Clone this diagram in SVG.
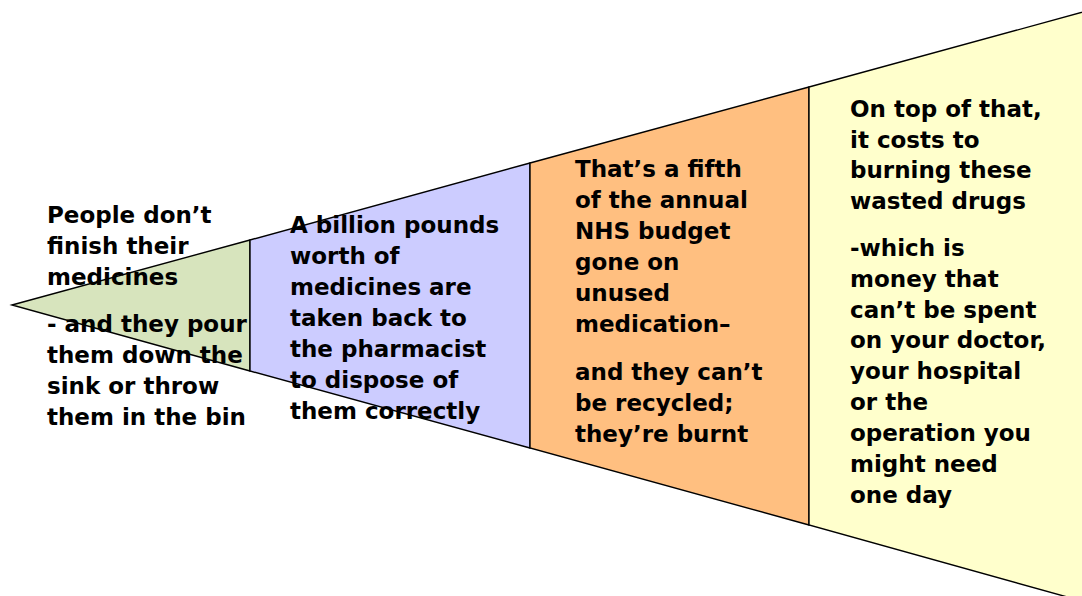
<svg xmlns="http://www.w3.org/2000/svg" width="1082" height="596" viewBox="0 0 1082 596">
<style>
.seg{stroke:#000;stroke-width:1.4;stroke-linejoin:miter}
.t{font-family:"DejaVu Sans","Verdana",sans-serif;font-weight:bold;font-size:23px;fill:#000}
</style>
<rect width="1082" height="596" fill="#fff"/>
<g id="stage1">
<polygon class="seg" fill="#D7E4BD" points="12,305 250,240 250,371"/>
</g>
<g id="stage2">
<polygon class="seg" fill="#CCCCFF" points="250,240 530,163 530,448 250,371"/>
</g>
<g id="stage3">
<polygon class="seg" fill="#FFBF80" points="530,163 809,87 809,525 530,448"/>
</g>
<g id="stage4">
<polygon class="seg" fill="#FFFFCC" points="809,87 1096,8.5 1096,605 809,525"/>
</g>
<g id="text1" class="t">
<text x="47" y="223">People don’t</text>
<text x="47" y="254">finish their</text>
<text x="47" y="285">medicines</text>
<text x="47" y="332">- and they pour</text>
<text x="47" y="363">them down the</text>
<text x="47" y="394">sink or throw</text>
<text x="47" y="425">them in the bin</text>
</g>
<g id="text2" class="t">
<text x="290" y="233">A billion pounds</text>
<text x="290" y="264">worth of</text>
<text x="290" y="295">medicines are</text>
<text x="290" y="326">taken back to</text>
<text x="290" y="357">the pharmacist</text>
<text x="290" y="388">to dispose of</text>
<text x="290" y="419">them correctly</text>
</g>
<g id="text3" class="t">
<text x="575" y="177">That’s a fifth</text>
<text x="575" y="208">of the annual</text>
<text x="575" y="239">NHS budget</text>
<text x="575" y="270">gone on</text>
<text x="575" y="301">unused</text>
<text x="575" y="332">medication–</text>
<text x="575" y="380">and they can’t</text>
<text x="575" y="411">be recycled;</text>
<text x="575" y="442">they’re burnt</text>
</g>
<g id="text4" class="t">
<text x="850" y="117">On top of that,</text>
<text x="850" y="148">it costs to</text>
<text x="850" y="178">burning these</text>
<text x="850" y="209">wasted drugs</text>
<text x="850" y="256">-which is</text>
<text x="850" y="287">money that</text>
<text x="850" y="318">can’t be spent</text>
<text x="850" y="348">on your doctor,</text>
<text x="850" y="379">your hospital</text>
<text x="850" y="410">or the</text>
<text x="850" y="441">operation you</text>
<text x="850" y="472">might need</text>
<text x="850" y="503">one day</text>
</g>
</svg>
